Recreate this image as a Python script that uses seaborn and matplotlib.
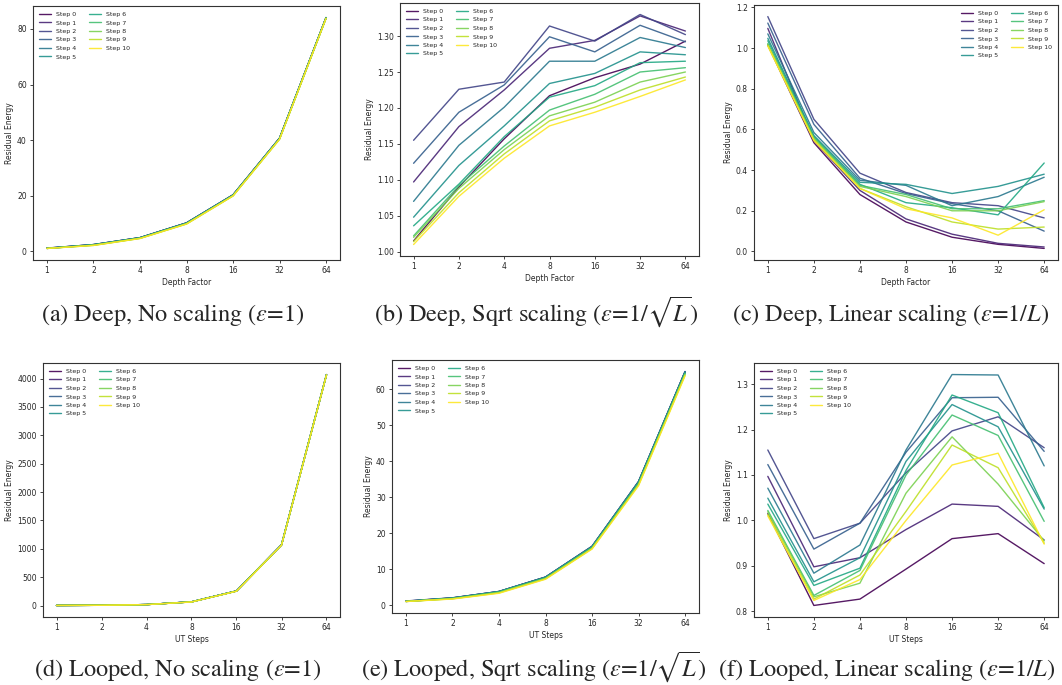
import matplotlib.pyplot as plt
import numpy as np
import pandas as pd
import seaborn as sns

depth = [1, 2, 4, 8, 16, 32, 64]
steps = [f'Step {i}' for i in range(11)]

# residual energy per step (rows) and depth / UT steps (columns)
deep_none = [
    [1.02, 2.3, 4.8, 10.1, 20.2, 40.6, 84.0],
    [1.10, 2.4, 4.9, 10.2, 20.3, 40.7, 84.1],
    [1.16, 2.4, 4.9, 10.2, 20.3, 40.7, 84.1],
    [1.12, 2.4, 4.9, 10.2, 20.3, 40.7, 84.1],
    [1.07, 2.4, 4.9, 10.2, 20.2, 40.6, 84.0],
    [1.05, 2.3, 4.8, 10.1, 20.2, 40.6, 84.0],
    [1.04, 2.3, 4.8, 10.0, 20.1, 40.5, 84.0],
    [1.02, 2.2, 4.7, 10.0, 20.1, 40.5, 83.9],
    [1.02, 2.2, 4.7, 9.9, 20.0, 40.4, 83.9],
    [1.01, 2.1, 4.6, 9.8, 19.9, 40.3, 83.8],
    [1.01, 2.1, 4.6, 9.8, 19.9, 40.3, 83.8],
]

deep_sqrt = [
    [1.015, 1.090, 1.157, 1.217, 1.242, 1.261, 1.293],
    [1.097, 1.174, 1.225, 1.283, 1.294, 1.328, 1.307],
    [1.155, 1.226, 1.236, 1.314, 1.293, 1.330, 1.302],
    [1.123, 1.194, 1.232, 1.299, 1.278, 1.315, 1.292],
    [1.070, 1.148, 1.201, 1.265, 1.265, 1.298, 1.284],
    [1.048, 1.120, 1.175, 1.234, 1.248, 1.278, 1.274],
    [1.036, 1.094, 1.160, 1.215, 1.231, 1.263, 1.265],
    [1.022, 1.092, 1.147, 1.197, 1.219, 1.250, 1.256],
    [1.020, 1.088, 1.142, 1.189, 1.208, 1.236, 1.250],
    [1.014, 1.082, 1.136, 1.182, 1.201, 1.225, 1.243],
    [1.010, 1.077, 1.130, 1.175, 1.194, 1.216, 1.239],
]

deep_linear = [
    [1.015, 0.535, 0.280, 0.145, 0.070, 0.035, 0.015],
    [1.097, 0.545, 0.300, 0.160, 0.085, 0.040, 0.022],
    [1.155, 0.650, 0.385, 0.290, 0.240, 0.225, 0.165],
    [1.123, 0.625, 0.360, 0.285, 0.235, 0.200, 0.100],
    [1.070, 0.585, 0.350, 0.325, 0.225, 0.270, 0.365],
    [1.048, 0.570, 0.340, 0.330, 0.285, 0.320, 0.380],
    [1.036, 0.565, 0.330, 0.240, 0.215, 0.180, 0.435],
    [1.022, 0.560, 0.325, 0.280, 0.210, 0.210, 0.250],
    [1.019, 0.555, 0.320, 0.270, 0.200, 0.200, 0.245],
    [1.013, 0.550, 0.310, 0.220, 0.145, 0.110, 0.120],
    [1.010, 0.545, 0.310, 0.210, 0.165, 0.080, 0.205],
]

loop_none = [
    [1.02, 4.2, 16.4, 64, 255, 1066, 4066],
    [1.10, 4.3, 16.6, 65, 257, 1069, 4069],
    [1.16, 4.3, 16.6, 65, 257, 1070, 4070],
    [1.12, 4.3, 16.6, 65, 257, 1070, 4070],
    [1.07, 4.3, 16.5, 65, 256, 1069, 4069],
    [1.05, 4.2, 16.5, 64, 256, 1068, 4068],
    [1.04, 4.2, 16.4, 64, 255, 1067, 4067],
    [1.02, 4.1, 16.3, 64, 255, 1066, 4066],
    [1.02, 4.1, 16.2, 63, 254, 1065, 4065],
    [1.01, 4.0, 16.1, 63, 253, 1064, 4064],
    [1.01, 4.0, 16.0, 62, 252, 1063, 4063],
]

loop_sqrt = [
    [1.02, 1.95, 3.7, 7.7, 16.2, 34.2, 64.8],
    [1.10, 2.00, 3.8, 7.8, 16.3, 34.3, 64.9],
    [1.16, 2.05, 3.8, 7.8, 16.4, 34.4, 65.0],
    [1.12, 2.00, 3.8, 7.8, 16.3, 34.4, 65.0],
    [1.07, 2.00, 3.8, 7.8, 16.3, 34.3, 64.9],
    [1.05, 1.95, 3.7, 7.7, 16.2, 34.2, 64.8],
    [1.04, 1.90, 3.7, 7.6, 16.1, 34.0, 64.6],
    [1.02, 1.85, 3.6, 7.5, 16.0, 33.8, 64.4],
    [1.02, 1.80, 3.5, 7.4, 15.8, 33.6, 64.2],
    [1.01, 1.75, 3.4, 7.3, 15.7, 33.4, 64.0],
    [1.01, 1.70, 3.3, 7.2, 15.6, 33.2, 63.8],
]

loop_linear = [
    [1.015, 0.813, 0.827, 0.893, 0.960, 0.971, 0.905],
    [1.097, 0.898, 0.918, 0.980, 1.036, 1.031, 0.957],
    [1.155, 0.960, 0.994, 1.105, 1.197, 1.228, 1.160],
    [1.123, 0.937, 0.994, 1.150, 1.270, 1.271, 1.152],
    [1.071, 0.884, 0.946, 1.155, 1.321, 1.320, 1.120],
    [1.049, 0.865, 0.918, 1.130, 1.255, 1.206, 1.025],
    [1.036, 0.857, 0.895, 1.110, 1.276, 1.237, 1.028],
    [1.022, 0.835, 0.890, 1.100, 1.232, 1.187, 0.998],
    [1.019, 0.832, 0.862, 1.060, 1.184, 1.080, 0.955],
    [1.013, 0.827, 0.880, 1.020, 1.166, 1.116, 0.950],
    [1.010, 0.824, 0.870, 1.000, 1.122, 1.148, 0.948],
]

captions = [
    r'(a) Deep, No scaling ($\varepsilon$=1)',
    r'(b) Deep, Sqrt scaling ($\varepsilon$=1/$\sqrt{L}$)',
    r'(c) Deep, Linear scaling ($\varepsilon$=1/$L$)',
    r'(d) Looped, No scaling ($\varepsilon$=1)',
    r'(e) Looped, Sqrt scaling ($\varepsilon$=1/$\sqrt{L}$)',
    r'(f) Looped, Linear scaling ($\varepsilon$=1/$L$)',
]

sns.set_style('ticks')
plt.rcParams['mathtext.fontset'] = 'stix'

colors = [plt.cm.viridis(v) for v in np.linspace(0, 1, 11)]

W, H = 1062, 685
fig = plt.figure(figsize=(W / 100, H / 100), dpi=100)


def long_form(table):
    rows = []
    for step, vals in zip(steps, table):
        for d, v in zip(depth, vals):
            rows.append({'depth': d, 'step': step, 'energy': v})
    return pd.DataFrame(rows)


# table, x label, axes box in pixels (left, top, right, bottom), legend loc, caption baseline
panels = [
    (deep_none, 'Depth Factor', (33, 6, 340, 260), 'upper left', (173, 321)),
    (deep_sqrt, 'Depth Factor', (400, 3, 699, 256), 'upper left', (536, 321)),
    (deep_linear, 'Depth Factor', (754, 5, 1058, 260), 'upper right', (891, 321)),
    (loop_none, 'UT Steps', (43, 363, 340, 617), 'upper left', (178, 676)),
    (loop_sqrt, 'UT Steps', (392, 360, 699, 613), 'upper left', (534, 676)),
    (loop_linear, 'UT Steps', (754, 363, 1058, 617), 'upper left', (887, 676)),
]

for (table, xlabel, (l, t, r, b), loc, (cx, cy)), cap in zip(panels, captions):
    ax = fig.add_axes([l / W, 1 - b / H, (r - l) / W, (b - t) / H])
    sns.lineplot(data=long_form(table), x='depth', y='energy', hue='step',
                 hue_order=steps, palette=colors, linewidth=1.0, alpha=0.9,
                 errorbar=None, ax=ax)
    ax.set_xscale('log', base=2)
    ax.set_xticks(depth)
    ax.set_xticklabels([str(d) for d in depth])
    ax.minorticks_off()
    ax.set_xlabel(xlabel, fontsize=5.5, labelpad=2)
    ax.set_ylabel('Residual Energy', fontsize=5.5, labelpad=2)
    ax.tick_params(labelsize=5.5, length=2.5, width=0.6, pad=2)
    for s in ax.spines.values():
        s.set_linewidth(0.8)
        s.set_color('#333333')
    sns.move_legend(ax, loc, ncol=2, fontsize=4.5, frameon=False, title=None)
    fig.text(cx / W, 1 - cy / H, cap, ha='center', va='baseline',
             fontsize=17.5, family='STIXGeneral')

fig.savefig('out.png', dpi=100)
